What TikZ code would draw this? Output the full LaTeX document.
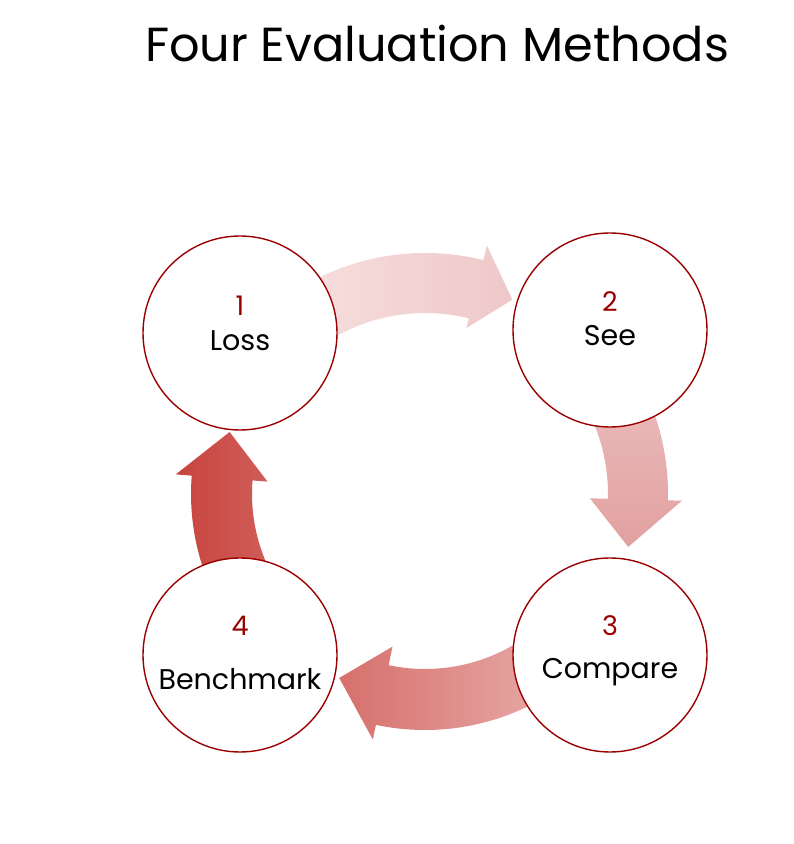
\documentclass[tikz,border=0pt]{standalone}
\usepackage{fontspec}
\setmainfont{Poppins}
\usetikzlibrary{calc}

\definecolor{ringred}{RGB}{155,0,0}

\begin{document}
\begin{tikzpicture}[x=1pt, y=1pt,
    stage/.style = {circle, draw=ringred, line width=1.4pt, fill=white, minimum size=194pt, inner sep=0pt},
    stagenum/.style = {anchor=base, text=ringred, font=\fontsize{27}{32}\selectfont},
    stagelabel/.style = {anchor=base, font=\fontsize{28.5}{34}\selectfont}]

  \useasboundingbox[fill=white] (0,0) rectangle (794,844);

  \node[anchor=base, font=\fontsize{47.8}{57}\selectfont] (title) at (437,782) {Four Evaluation Methods};

  \coordinate (hub) at (425,350);

  % curved block arrows round the hub
  \begin{scope}[shift={(hub)}]
    \shade[left color={rgb,255:red,247;green,224;blue,224}, right color={rgb,255:red,239;green,200;blue,200}]
      (125:241) arc[start angle=125, end angle=76, radius=241] -- (76:256) -- (65.8:213)
      -- (76:171) -- (76:181) arc[start angle=76, end angle=125, radius=181] -- cycle;
    \shade[top color={rgb,255:red,236;green,190;blue,190}, bottom color={rgb,255:red,226;green,160;blue,160}]
      (30:243) arc[start angle=30, end angle=-1.5, radius=243] -- (-1.5:257) -- (-14.6:210)
      -- (-1.5:165) -- (-1.5:183) arc[start angle=-1.5, end angle=30, radius=183] -- cycle;
    \shade[left color={rgb,255:red,214;green,112;blue,108}, right color={rgb,255:red,234;green,180;blue,178}]
      (-45:236) arc[start angle=-45, end angle=-102, radius=236] -- (-102:251) -- (-115:203)
      -- (-102:156) -- (-102:175) arc[start angle=-102, end angle=-45, radius=175] -- cycle;
    \shade[left color={rgb,255:red,200;green,68;blue,62}, right color={rgb,255:red,210;green,99;blue,95}]
      (-140:234) arc[start angle=-140, end angle=-184.5, radius=234] -- (-184.5:250) -- (-197.6:205)
      -- (-184.5:158) -- (-184.5:173) arc[start angle=-184.5, end angle=-140, radius=173] -- cycle;
  \end{scope}

  % stages
  \node[stage] (loss) at (240,511) {};
  \node[stage] (see) at (610,514) {};
  \node[stage] (compare) at (610,189) {};
  \node[stage] (bench) at (240,189) {};

  \node[stagenum] (num1) at ([yshift=17]loss.center) {1};
  \node[stagelabel] (lab1) at ([yshift=-18]loss.center) {Loss};
  \node[stagenum] (num2) at ([yshift=18]see.center) {2};
  \node[stagelabel] (lab2) at ([yshift=-16]see.center) {See};
  \node[stagenum] (num3) at ([yshift=19]compare.center) {3};
  \node[stagelabel] (lab3) at ([yshift=-24]compare.center) {Compare};
  \node[stagenum] (num4) at ([yshift=19]bench.center) {4};
  \node[stagelabel] (lab4) at ([yshift=-35]bench.center) {Benchmark};

\end{tikzpicture}
\end{document}
